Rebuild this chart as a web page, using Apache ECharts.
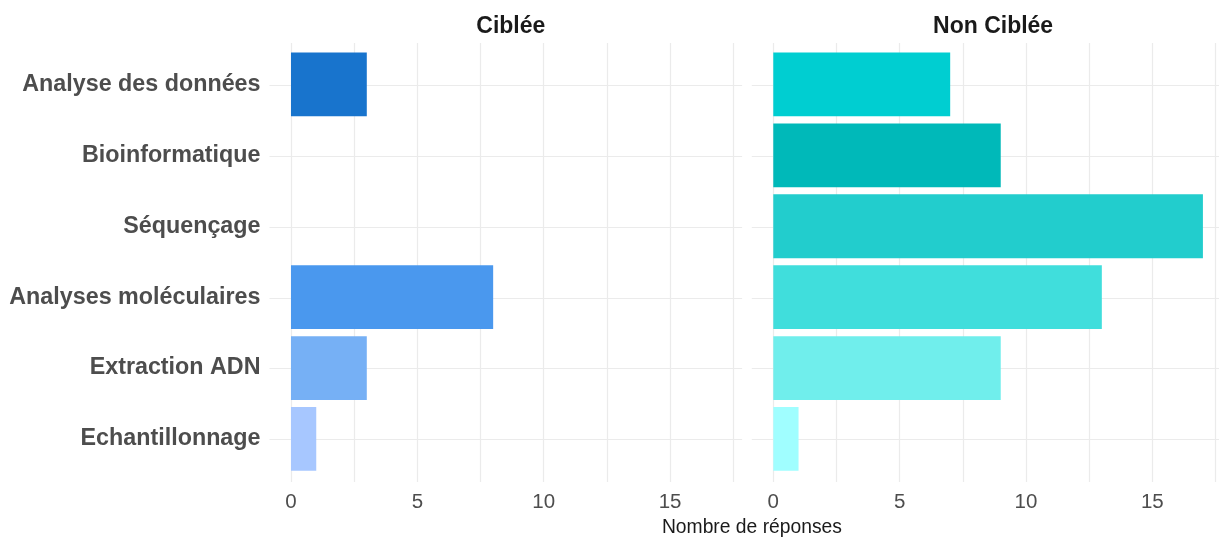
<!DOCTYPE html>
<html>
<head>
<meta charset="utf-8">
<script src="https://cdn.jsdelivr.net/npm/echarts@6/dist/echarts.min.js"></script>
<style>
html,body{margin:0;padding:0;background:#fff;overflow:hidden;}
#chart{width:1219px;height:539px;}
</style>
</head>
<body>
<div id="chart"></div>
<script>
const categories = ["Analyse des données", "Bioinformatique", "Séquençage", "Analyses moléculaires", "Extraction ADN", "Echantillonnage"];
const panels = ["Ciblée", "Non Ciblée"];
const cibleeValues = [3, 0, 0, 8, 3, 1];
const nonCibleeValues = [7, 9, 17, 13, 9, 1];
const cibleeColors = ["#1874CD", "#1874CD", "#1874CD", "#4A98EE", "#76B0F5", "#A7C7FF"];
const nonCibleeColors = ["#00CED1", "#00B9B9", "#22CDCD", "#40DEDC", "#70EEEC", "#A0FEFF"];
const xTickLabels = [0, 5, 10, 15];
const xMinorTicks = [2.5, 7.5, 12.5, 17.5];
const axisTitle = "Nombre de réponses";

const FONT = '"Liberation Sans", Arial, sans-serif';
const CHART_W = 1219;
const xMin = -0.85, xMaxFull = 17.85;
const panelLeft = [269.5, 751.8];
const panelWidth = 472.6;
const unit = panelWidth / (xMaxFull - xMin);
const bgTop = 43, bgHeight = 439;
const barTop = 49, barHeight = 425.4;
const gridColor = '#EBEBEB';

const allTicks = xTickLabels.concat(xMinorTicks).sort((a, b) => a - b);
const catIdx = categories.map((c, i) => i);

const grids = [], xAxes = [], yAxes = [], series = [], titles = [];
const valueSets = [cibleeValues, nonCibleeValues];
const colorSets = [cibleeColors, nonCibleeColors];

panels.forEach((p, k) => {
  const w = Math.min(panelWidth, CHART_W - panelLeft[k]);
  const xMax = xMin + w / unit;
  grids.push({left: panelLeft[k], width: w, top: bgTop, height: bgHeight, containLabel: false});
  grids.push({left: panelLeft[k], width: w, top: barTop, height: barHeight, containLabel: false});
  const gBg = 2 * k, gBar = 2 * k + 1;
  xAxes.push({
    type: 'value', gridIndex: gBg, min: xMin, max: xMax,
    axisLine: {show: false},
    axisTick: {show: false, customValues: allTicks.filter(t => t <= xMax)},
    axisLabel: {customValues: xTickLabels, color: '#4D4D4D', fontSize: 20.5, fontFamily: FONT, margin: 10},
    splitLine: {show: true, lineStyle: {color: gridColor, width: 1.2}}
  });
  yAxes.push({
    type: 'value', gridIndex: gBg, min: -0.6, max: categories.length - 1 + 0.6, inverse: true,
    axisLine: {show: false},
    axisTick: {show: false, customValues: catIdx},
    axisLabel: {show: false},
    splitLine: {show: true, lineStyle: {color: gridColor, width: 1.2}}
  });
  xAxes.push({
    type: 'value', gridIndex: gBar, min: xMin, max: xMax,
    axisLine: {show: false}, axisTick: {show: false}, axisLabel: {show: false}, splitLine: {show: false}
  });
  yAxes.push({
    type: 'category', gridIndex: gBar, data: categories, inverse: true,
    axisLine: {show: false}, axisTick: {show: false}, splitLine: {show: false},
    axisLabel: {show: k === 0, color: '#4D4D4D', fontSize: 23.3, fontWeight: 'bold', fontFamily: FONT, margin: 9, padding: [3, 0, 0, 0]}
  });
  series.push({
    type: 'bar', xAxisIndex: gBar, yAxisIndex: gBar,
    barWidth: '90%',
    data: valueSets[k].map((v, i) => ({value: v, itemStyle: {color: colorSets[k][i]}})),
    silent: true, z: 3
  });
  titles.push({
    text: p, left: panelLeft[k] + panelWidth / 2, top: 10, textAlign: 'center',
    textStyle: {color: '#1A1A1A', fontSize: 23, fontWeight: 'bold', fontFamily: FONT}
  });
});

titles.push({
  text: axisTitle, left: (panelLeft[0] + panelLeft[1] + panelWidth) / 2, top: 513, textAlign: 'center',
  textStyle: {color: '#1A1A1A', fontSize: 19.3, fontWeight: 'normal', fontFamily: FONT}
});

const chart = echarts.init(document.getElementById('chart'), null, {renderer: 'canvas'});
chart.setOption({
  animation: false,
  backgroundColor: '#FFFFFF',
  title: titles,
  grid: grids,
  xAxis: xAxes,
  yAxis: yAxes,
  series: series
});
</script>
</body>
</html>
